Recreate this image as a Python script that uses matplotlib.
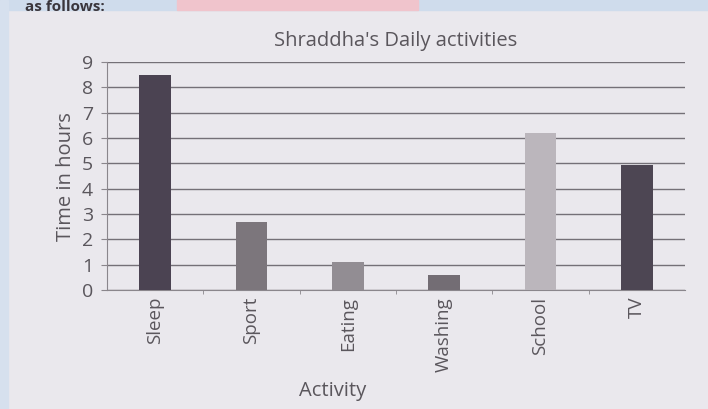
import numpy as np
from matplotlib import pyplot as plt

activities = ["Sleep", "Sport", "Eating", "Washing", "School", "TV"]
hours = [8.5, 2.7, 1.1, 0.6, 6.2, 4.95]
bar_colors = ["#4b4352", "#7c767c", "#928d93", "#736d74", "#bbb6bc", "#4d4653"]
y_ticks = list(range(0, 10))

plt.rcParams['font.family'] = ['Open Sans', 'DejaVu Sans']
txt = "#5a565c"

fig = plt.figure(figsize=(7.08, 4.09), dpi=100)
fig.patch.set_facecolor("#eae8ed")

# scan edges: blue strip on top, pink patch
fig.patches.append(plt.Rectangle((0, 0.975), 1, 0.025, transform=fig.transFigure,
                                 color="#cfdcec", zorder=0))
fig.patches.append(plt.Rectangle((0.25, 0.975), 0.34, 0.025, transform=fig.transFigure,
                                 color="#f0c4cc", zorder=0))
fig.patches.append(plt.Rectangle((0, 0), 0.012, 1, transform=fig.transFigure,
                                 color="#d6e0ee", zorder=0))

ax = fig.add_axes([0.151, 0.291, 0.8165, 0.557])
ax.set_facecolor("#eae8ed")

x = np.arange(len(activities))
ax.bar(x, hours, width=0.33, color=bar_colors, zorder=3)

ax.set_xlim(-0.5, 5.5)
ax.set_ylim(0, 9)
ax.set_yticks(y_ticks)
ax.set_yticklabels([str(v) for v in y_ticks], fontsize=14, color=txt)
ax.yaxis.grid(True, color="#747077", linewidth=1.0, zorder=1)
ax.set_axisbelow(True)

ax.set_xticks(x)
ax.set_xticklabels(activities, rotation=90, fontsize=13.5, color=txt)
ax.set_xticks(np.arange(0.5, 5.5, 1), minor=True)
ax.tick_params(axis='x', which='major', length=0, pad=5)
ax.tick_params(axis='x', which='minor', length=3, color="#8a868c")
ax.tick_params(axis='y', length=4, color="#8a868c", pad=6)

for s in ['top', 'right']:
    ax.spines[s].set_visible(False)
for s in ['left', 'bottom']:
    ax.spines[s].set_color("#8a868c")

ax.set_title("Shraddha's Daily activities", fontsize=14.5, color=txt, pad=12)
ax.set_ylabel("Time in hours", fontsize=14.5, color=txt, labelpad=4)
ax.set_xlabel("Activity", fontsize=14.5, color=txt)
ax.xaxis.set_label_coords(0.39, -0.40)

fig.text(0.035, 0.999, "as follows:", fontsize=11, color="#3a363c", va="top", weight="bold")

plt.savefig("out.png", dpi=100, facecolor=fig.get_facecolor())
